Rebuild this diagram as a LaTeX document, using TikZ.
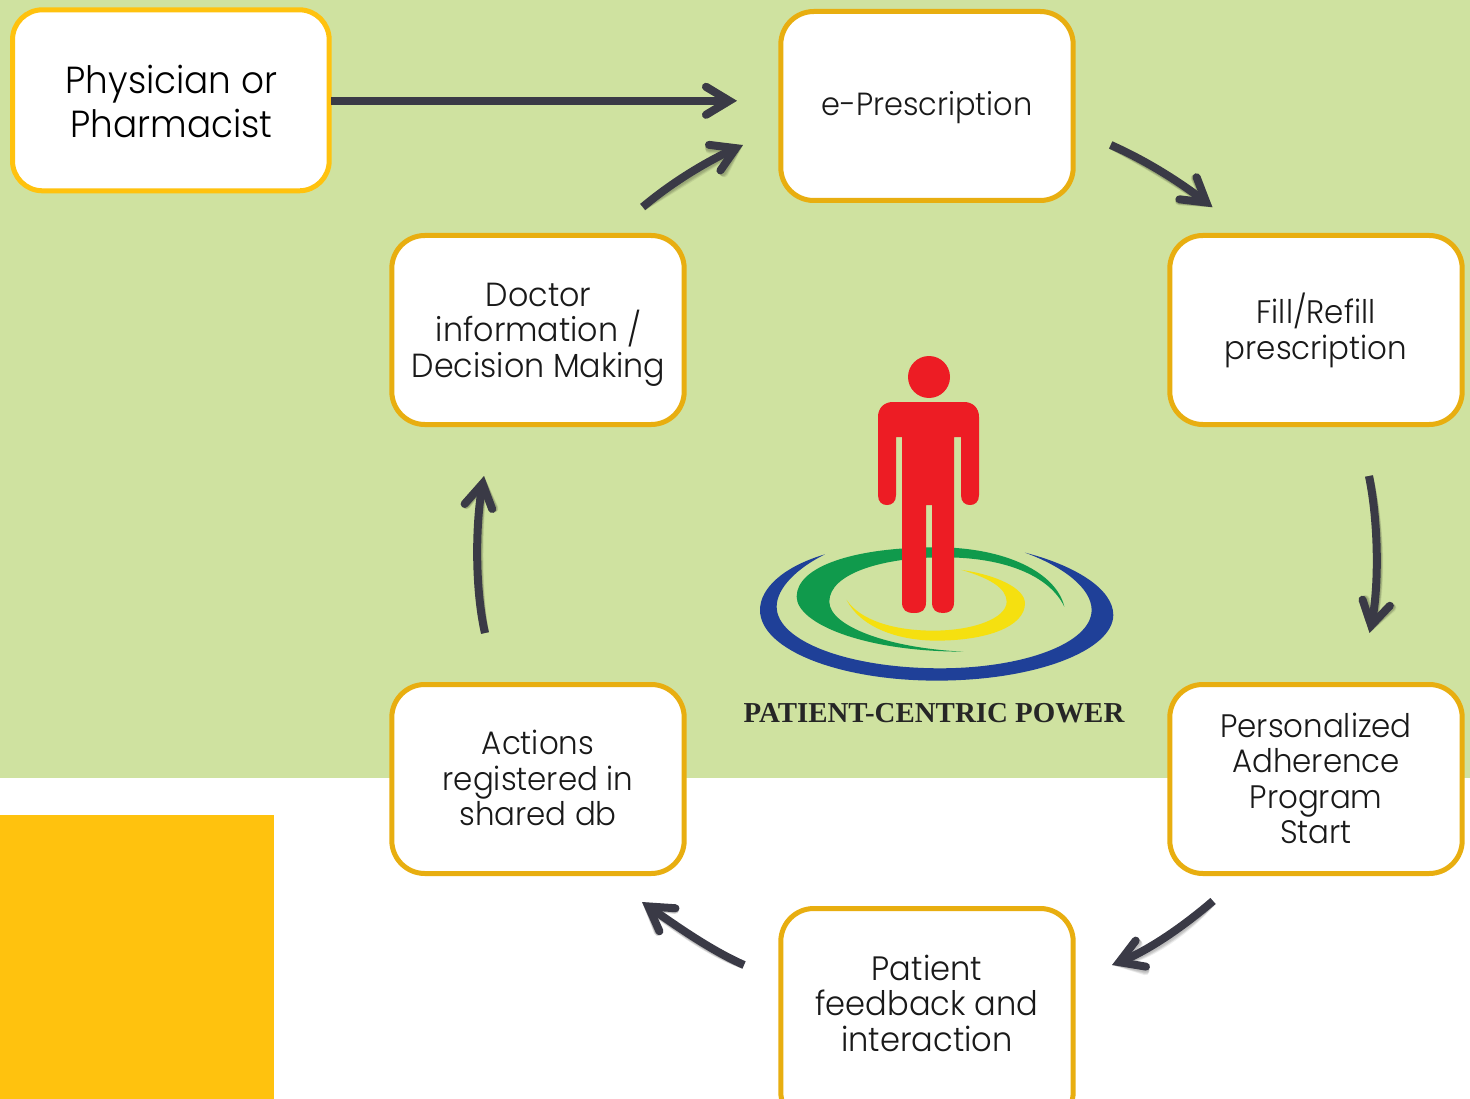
\documentclass[tikz,border=0pt]{standalone}
\usepackage{fontspec}
\setmainfont[FakeStretch=0.95,UprightFont={* Light}]{Poppins}
\newfontfamily\logofont{Liberation Serif}
\usetikzlibrary{arrows.meta}
\definecolor{bggreen}{HTML}{CFE2A0}
\definecolor{sun}{HTML}{FFC20E}
\definecolor{edgeor}{HTML}{E8AE10}
\definecolor{arrowc}{HTML}{3A3A46}
\definecolor{manred}{HTML}{ED1C24}
\definecolor{ringblue}{HTML}{1F4098}
\definecolor{ringgreen}{HTML}{109A4C}
\definecolor{ringyellow}{HTML}{F5E010}
\pgfdeclarearrow{
  name=FlowTip,
  setup code={\pgfarrowssettipend{0pt}\pgfarrowssetlineend{-8pt}\pgfarrowssetbackend{-35pt}\pgfarrowssetvisualbackend{-8pt}},
  drawing code={
    \pgfsetlinewidth{8pt}\pgfsetroundcap\pgfsetmiterjoin\pgfsetdash{}{0pt}
    \pgfpathmoveto{\pgfpoint{-31pt}{14pt}}
    \pgfpathlineto{\pgfpoint{-7.8pt}{0pt}}
    \pgfpathlineto{\pgfpoint{-31pt}{-14pt}}
    \pgfusepathqstroke
  },
}
\tikzset{
 box/.style={draw=edgeor,line width=5pt,fill=white,rounded corners=33pt},
 lbl/.style={align=center,inner sep=0pt,font=\fontsize{32.5}{35.5}\selectfont,text=black!90},
 flow/.style={draw=arrowc,line width=8pt,-FlowTip},
 flowshade/.style={draw=black,opacity=0.07,line width=8pt,-FlowTip},
}
\newcommand{\flowcurve}[1]{%
  \foreach \sx/\sy in {1/2,2/3,2/4,3/5}{\draw[flowshade,xshift=\sx pt,yshift=-\sy pt] #1;}
  \draw[flow] #1;}
\begin{document}
\begin{tikzpicture}[x=1pt,y=-1pt]
\useasboundingbox (0,0) rectangle (1470,1099);
\fill[bggreen] (0,0) rectangle (1470,778);
\fill[sun] (0,815) rectangle (274,1099);
% logo
\begin{scope}[xshift=730pt,yshift=-340pt,x=0.3333pt,y=-0.3333pt]
\fill[ringblue] (285,643) .. controls (160,680) and (90,745) .. (90,810) .. controls (90,930) and (330,1022) .. (620,1022) .. controls (920,1022) and (1150,930) .. (1150,825) .. controls (1150,745) and (1030,675) .. (885,638) .. controls (1000,680) and (1085,745) .. (1085,810) .. controls (1085,910) and (880,985) .. (630,985) .. controls (360,985) and (140,905) .. (140,800) .. controls (140,745) and (200,685) .. (285,643) -- cycle;
\fill[ringgreen] (1003,800) .. controls (980,700) and (830,622) .. (620,622) .. controls (370,622) and (200,680) .. (200,770) .. controls (200,850) and (400,935) .. (700,935) .. controls (480,925) and (298,860) .. (298,785) .. controls (298,700) and (460,652) .. (640,652) .. controls (830,652) and (960,710) .. (1003,800) -- cycle;
\fill[ringyellow] (350,780) .. controls (390,860) and (500,902) .. (620,902) .. controls (770,902) and (885,860) .. (885,790) .. controls (885,745) and (800,705) .. (695,690) .. controls (780,715) and (830,745) .. (830,785) .. controls (830,835) and (730,872) .. (610,872) .. controls (490,872) and (390,840) .. (350,780) -- cycle;
\end{scope}
\fill[manred] (929,377) circle (21);
\fill[manred] (893,402) -- (964,402) .. controls (973,402) and (979,408) .. (979,417) -- (979,495) .. controls (979,502) and (975,505) .. (970,505) .. controls (965,505) and (961,502) .. (961,495) -- (961,437) -- (954,437) -- (954,602) .. controls (954,610) and (950,613) .. (943,613) .. controls (936,613) and (932,610) .. (932,602) -- (932,505) -- (926,505) -- (926,602) .. controls (926,610) and (922,613) .. (914,613) .. controls (906,613) and (902,610) .. (902,602) -- (902,437) -- (896,437) -- (896,495) .. controls (896,502) and (892,505) .. (887,505) .. controls (882,505) and (878,502) .. (878,495) -- (878,417) .. controls (878,408) and (884,402) .. (893,402) -- cycle;
\node[font=\logofont\bfseries\fontsize{28.9}{29}\selectfont,text=black!85,inner sep=0pt] (logotext) at (934,713) {PATIENT-CENTRIC POWER};
% boxes
\path[box,draw=sun,rounded corners=30pt] (12.5,9.8) rectangle (329.2,190.8);
\node[lbl,font=\fontsize{37.7}{44}\selectfont,text=black] (phys) at (171.5,101.5) {Physician or\\Pharmacist};
\coordinate (physE) at (331,100.8);
\path[box] (780.8,11.5) rectangle (1073.2,200.5);
\node[lbl,font=\fontsize{32}{35.5}\selectfont] (epres) at (927,108) {e-Prescription};
\path[box] (1169.8,235.5) rectangle (1462.2,424.5);
\node[lbl] (fill) at (1316,330.5) {Fill/Refill\\prescription};
\path[box] (1169.8,684.5) rectangle (1462.2,873.5);
\node[lbl] (pers) at (1316,778.5) {Personalized\\Adherence\\Program\\Start};
\path[box] (780.8,908.5) rectangle (1073.2,1125);
\node[lbl,font=\fontsize{33.8}{35.5}\selectfont] (pat) at (927,1003) {Patient\\feedback and\\interaction};
\path[box] (391.8,684.5) rectangle (684.2,873.5);
\node[lbl] (act) at (538,778) {Actions\\registered in\\shared db};
\path[box] (391.8,235.5) rectangle (684.2,424.5);
\node[lbl,font=\fontsize{33.4}{35.5}\selectfont] (doc) at (538.5,334.5) {Doctor\\information /\\Decision Making};
% arrow ends
\coordinate (a0e) at (737,100.8);
\coordinate (a1s) at (642.7,207); \coordinate (a1e) at (743,145);
\coordinate (a2s) at (1110.7,145); \coordinate (a2e) at (1212.5,207.3);
\coordinate (a3s) at (1369,476); \coordinate (a3e) at (1369.5,633);
\coordinate (a4s) at (1213,901); \coordinate (a4e) at (1112,965);
\coordinate (a5s) at (744,965); \coordinate (a5e) at (642,902);
\coordinate (a6s) at (485,633); \coordinate (a6e) at (484,476);
\flowcurve{(physE) -- (a0e)}
\flowcurve{(a1s) .. controls (670,184) and (705,162) .. (a1e)}
\flowcurve{(a2s) .. controls (1145,160) and (1180,182) .. (a2e)}
\flowcurve{(a3s) .. controls (1379,525) and (1379,590) .. (a3e)}
\flowcurve{(a4s) .. controls (1185,925) and (1150,950) .. (a4e)}
\flowcurve{(a5s) .. controls (710,950) and (675,925) .. (a5e)}
\flowcurve{(a6s) .. controls (475,590) and (475,525) .. (a6e)}
\end{tikzpicture}
\end{document}
